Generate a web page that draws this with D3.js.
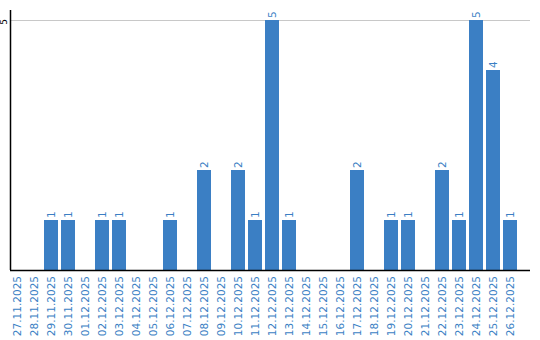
<!DOCTYPE html>
<html>
<head>
<meta charset="utf-8">
<script src="https://cdn.jsdelivr.net/npm/d3@7"></script>
<style>
body { margin: 0; background: #fff; }
svg { display: block; font-family: "DejaVu Sans", sans-serif; }
</style>
</head>
<body>
<div id="chart"></div>
<script>
// one count per day
var days = ['27.11.2025','28.11.2025','29.11.2025','30.11.2025','01.12.2025','02.12.2025',
	'03.12.2025','04.12.2025','05.12.2025','06.12.2025','07.12.2025','08.12.2025',
	'09.12.2025','10.12.2025','11.12.2025','12.12.2025','13.12.2025','14.12.2025',
	'15.12.2025','16.12.2025','17.12.2025','18.12.2025','19.12.2025','20.12.2025',
	'21.12.2025','22.12.2025','23.12.2025','24.12.2025','25.12.2025','26.12.2025']
var counts = [0,0,1,1,0,1, 1,0,0,1,0,2, 0,2,1,5,1,0, 0,0,2,0,1,1, 0,2,1,5,4,1]
var yTicks = [5]

var draw = function() {
	var blue = '#3b7fc4'
	var width = 540, height = 340
	var pLeft = 10, pRight = 530, pTop = 20, pBottom = 270

	var svg = d3.select('#chart').append('svg')
		.attr('width', width)
		.attr('height', height)

	var x = d3.scaleBand()
		.domain(days)
		.range([pLeft, 517])
		.paddingInner(3/17)
		.paddingOuter(0)

	var y = d3.scaleLinear()
		.domain([0, 5])
		.range([pBottom, pTop])

	// gridline
	svg.append('g').selectAll('line')
		.data(yTicks)
		.enter().append('line')
		.attr('x1', pLeft).attr('x2', pRight)
		.attr('y1', function(d) { return y(d) + 0.5 })
		.attr('y2', function(d) { return y(d) + 0.5 })
		.attr('stroke', '#c8c8c8')
		.attr('stroke-width', 1)

	svg.append('g').selectAll('text')
		.data(yTicks)
		.enter().append('text')
		.attr('transform', function(d) { return 'translate(4,' + (y(d) + 2) + ') rotate(-90)' })
		.attr('text-anchor', 'middle')
		.attr('dy', '0.35em')
		.attr('font-size', 9)
		.attr('fill', '#000')
		.text(function(d) { return d })

	var data = days.map(function(d, i) { return { day: d, v: counts[i] } })

	svg.append('g').selectAll('rect')
		.data(data.filter(function(d) { return d.v > 0 }))
		.enter().append('rect')
		.attr('x', function(d) { return x(d.day) })
		.attr('width', x.bandwidth())
		.attr('y', function(d) { return y(d.v) })
		.attr('height', function(d) { return y(0) - y(d.v) })
		.attr('fill', blue)

	svg.append('g').selectAll('text')
		.data(data.filter(function(d) { return d.v > 0 }))
		.enter().append('text')
		.attr('transform', function(d) {
			return 'translate(' + (x(d.day) + x.bandwidth() / 2) + ',' + (y(d.v) - 2) + ') rotate(-90)'
		})
		.attr('dy', '0.35em')
		.attr('font-size', 10.5)
		.attr('fill', blue)
		.text(function(d) { return d.v })

	// axes lines
	svg.append('line')
		.attr('x1', pLeft + 0.5).attr('x2', pLeft + 0.5)
		.attr('y1', 10).attr('y2', pBottom)
		.attr('stroke', '#000').attr('stroke-width', 1.5)

	svg.append('line')
		.attr('x1', pLeft).attr('x2', pRight)
		.attr('y1', pBottom + 0.5).attr('y2', pBottom + 0.5)
		.attr('stroke', '#000').attr('stroke-width', 1.5)

	svg.append('g').selectAll('text')
		.data(days)
		.enter().append('text')
		.attr('transform', function(d) {
			return 'translate(' + (x(d) + x.bandwidth() / 2) + ',' + (pBottom + 6) + ') rotate(-90)'
		})
		.attr('text-anchor', 'end')
		.attr('dy', '0.35em')
		.attr('font-size', 10.5)
		.attr('fill', blue)
		.text(function(d) { return d })
}

draw()
</script>
</body>
</html>
